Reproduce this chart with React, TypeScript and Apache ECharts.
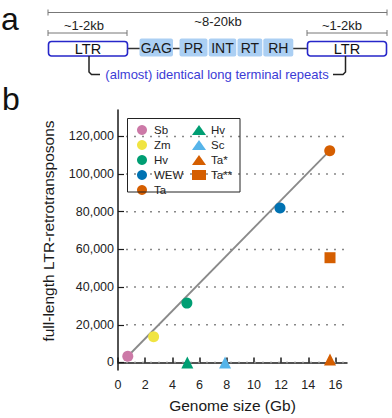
import React, { useEffect, useRef } from "react";
import * as echarts from "echarts";

// ---- data ----
const xTicks = [0, 2, 4, 6, 8, 10, 12, 14, 16];
const yTicks = [0, 20000, 40000, 60000, 80000, 100000, 120000];

const sbPoints = [[0.72, 3300]];
const zmPoints = [[2.62, 13700]];
const hvCirclePoints = [[5.07, 31500]];
const wewPoints = [[11.92, 82000]];
const taCirclePoints = [[15.58, 112400]];
const hvTrianglePoints = [[5.1, 0]];
const scPoints = [[7.88, 0]];
const taStarPoints = [[15.6, 1600]];
const taStar2Points = [[15.6, 55600]];
const fitLinePoints = [[0.72, 3300], [15.58, 112400]];

const legendLeft = ["Sb", "Zm", "Hv", "WEW", "Ta"];
const legendRight = ["Hv", "Sc", "Ta*", "Ta**"];

const X_MAX = 16.85;

const COLORS = {
  pink: "#CC79A7",
  yellow: "#F0E442",
  green: "#009E73",
  blue: "#0072B2",
  orange: "#D55E00",
  sky: "#56B4E9",
};

const FONT = "'Liberation Sans', Arial, Helvetica, sans-serif";

export default function App() {
  const ref = useRef<HTMLDivElement>(null);

  useEffect(() => {
    if (!ref.current) return;
    const chart = echarts.init(ref.current, undefined, { renderer: "svg" });

    const scatter = (name: string, data: number[][], color: string, symbol: string, size: number) => ({
      name,
      type: "scatter",
      data,
      symbol,
      symbolSize: size,
      itemStyle: { color, opacity: 1 },
      z: 5,
      clip: false,
      silent: true,
    });

    const lineColor = "#333";
    const diagram: any[] = [
      { type: "text", x: 1, y: 2.5, style: { text: "a", font: `32px ${FONT}`, fill: "#111", verticalAlign: "top" } },
      { type: "text", x: 2, y: 83, style: { text: "b", font: `32px ${FONT}`, fill: "#111", verticalAlign: "top" } },
      // top bracket
      { type: "line", shape: { x1: 48, y1: 12.5, x2: 387, y2: 12.5 }, style: { stroke: "#777", lineWidth: 1 } },
      { type: "line", shape: { x1: 48, y1: 9.5, x2: 48, y2: 15.5 }, style: { stroke: "#777", lineWidth: 1 } },
      { type: "line", shape: { x1: 387, y1: 9.5, x2: 387, y2: 15.5 }, style: { stroke: "#777", lineWidth: 1 } },
      { type: "text", x: 218, y: 21, style: { text: "~8-20kb", font: `13px ${FONT}`, fill: "#222", align: "center", verticalAlign: "middle" } },
      // left bracket
      { type: "line", shape: { x1: 48, y1: 33, x2: 127, y2: 33 }, style: { stroke: "#777", lineWidth: 1 } },
      { type: "line", shape: { x1: 48, y1: 30, x2: 48, y2: 36 }, style: { stroke: "#777", lineWidth: 1 } },
      { type: "line", shape: { x1: 127, y1: 30, x2: 127, y2: 36 }, style: { stroke: "#777", lineWidth: 1 } },
      { type: "text", x: 84, y: 25.5, style: { text: "~1-2kb", font: `13px ${FONT}`, fill: "#222", align: "center", verticalAlign: "middle" } },
      // right bracket
      { type: "line", shape: { x1: 307, y1: 33, x2: 387, y2: 33 }, style: { stroke: "#777", lineWidth: 1 } },
      { type: "line", shape: { x1: 307, y1: 30, x2: 307, y2: 36 }, style: { stroke: "#777", lineWidth: 1 } },
      { type: "line", shape: { x1: 387, y1: 30, x2: 387, y2: 36 }, style: { stroke: "#777", lineWidth: 1 } },
      { type: "text", x: 342, y: 25.5, style: { text: "~1-2kb", font: `13px ${FONT}`, fill: "#222", align: "center", verticalAlign: "middle" } },
      // connector lines
      { type: "line", shape: { x1: 127, y1: 48.5, x2: 140, y2: 48.5 }, style: { stroke: lineColor, lineWidth: 1.5 } },
      { type: "line", shape: { x1: 172, y1: 48.5, x2: 180, y2: 48.5 }, style: { stroke: lineColor, lineWidth: 1.5 } },
      { type: "line", shape: { x1: 293, y1: 48.5, x2: 308, y2: 48.5 }, style: { stroke: lineColor, lineWidth: 1.5 } },
      // LTR boxes
      { type: "rect", shape: { x: 48.5, y: 41.5, width: 79, height: 14.5, r: 3 }, style: { fill: "#fff", stroke: "#2626c9", lineWidth: 1.6 } },
      { type: "rect", shape: { x: 307.5, y: 41.5, width: 79, height: 14.5, r: 3 }, style: { fill: "#fff", stroke: "#2626c9", lineWidth: 1.6 } },
      { type: "text", x: 88, y: 49, style: { text: "LTR", font: `14.5px ${FONT}`, fill: "#111", align: "center", verticalAlign: "middle" } },
      { type: "text", x: 347, y: 49, style: { text: "LTR", font: `14.5px ${FONT}`, fill: "#111", align: "center", verticalAlign: "middle" } },
    ];
    const domains = [
      { t: "GAG", x: 139.5, w: 33.5 },
      { t: "PR", x: 179.5, w: 28 },
      { t: "INT", x: 208.7, w: 27.6 },
      { t: "RT", x: 237.5, w: 24.8 },
      { t: "RH", x: 263.3, w: 30 },
    ];
    domains.forEach((d) => {
      diagram.push({ type: "rect", shape: { x: d.x, y: 38.5, width: d.w, height: 18, r: 2 }, style: { fill: "#abcff3" } });
      diagram.push({ type: "text", x: d.x + d.w / 2, y: 48, style: { text: d.t, font: `14px ${FONT}`, fill: "#1a1a1a", align: "center", verticalAlign: "middle" } });
    });
    diagram.push(
      { type: "polyline", shape: { points: [[89, 56], [89, 72], [91.5, 74.5], [100, 74.5]] }, style: { stroke: "#222", lineWidth: 1.5, fill: null } },
      { type: "polyline", shape: { points: [[333, 74.5], [343, 74.5], [345.5, 72], [345.5, 56]] }, style: { stroke: "#222", lineWidth: 1.5, fill: null } },
      { type: "text", x: 217, y: 74, style: { text: "(almost) identical long terminal repeats", font: `13px ${FONT}`, fill: "#3b3bd6", align: "center", verticalAlign: "middle" } },
      // legend frame
      { type: "rect", shape: { x: 127.5, y: 118.5, width: 112.5, height: 73.5 }, style: { fill: null, stroke: "#222", lineWidth: 1 }, z: 10 }
    );

    const legendBase = {
      orient: "vertical",
      top: 124,
      itemWidth: 14,
      itemHeight: 10,
      itemGap: 3,
      selectedMode: false,
      padding: 0,
      textStyle: { fontSize: 11.5, color: "#222", fontFamily: FONT, padding: [0, 0, 0, 0] },
    };

    chart.setOption({
      animation: false,
      backgroundColor: "#fff",
      textStyle: { fontFamily: FONT },
      graphic: { elements: diagram },
      legend: [
        { ...legendBase, left: 137, data: legendLeft.map((n) => ({ name: n, icon: "circle" })) },
        {
          ...legendBase,
          left: 192,
          data: legendRight.map((n) => ({ name: n, icon: n === "Ta**" ? "rect" : "triangle" })),
        },
      ],
      grid: { left: 118, top: 110, width: 229, height: 261 },
      xAxis: {
        type: "value",
        min: 0,
        max: X_MAX,
        name: "Genome size (Gb)",
        nameLocation: "middle",
        nameGap: 27,
        nameTextStyle: { fontSize: 15.5, color: "#1a1a1a", fontFamily: FONT },
        axisLine: { show: true, lineStyle: { color: "#1a1a1a", width: 1.5 } },
        axisTick: { show: true, inside: true, length: 5, customValues: xTicks, lineStyle: { color: "#1a1a1a", width: 1.5 } },
        axisLabel: { customValues: xTicks, fontSize: 12.5, color: "#222", margin: 8, fontFamily: FONT },
        splitLine: { show: false },
      },
      yAxis: {
        type: "value",
        min: -4000,
        max: 134000,
        name: "full-length LTR-retrotransposons",
        nameLocation: "middle",
        nameRotate: 90,
        nameGap: 62,
        nameTextStyle: { fontSize: 15.5, color: "#1a1a1a", fontFamily: FONT, padding: [0, 0, 0, 18] },
        axisLine: { show: true, lineStyle: { color: "#1a1a1a", width: 1.5 } },
        axisTick: { show: true, inside: true, length: 6, customValues: yTicks, lineStyle: { color: "#1a1a1a", width: 1.2 } },
        axisLabel: {
          customValues: yTicks,
          fontSize: 12.5,
          color: "#222",
          margin: 4,
          fontFamily: FONT,
          formatter: (v: number) => Number(v).toLocaleString("en-US"),
        },
        splitLine: { show: false },
      },
      series: [
        {
          name: "gridlines",
          type: "custom",
          silent: true,
          z: 1,
          clip: false,
          encode: { x: 0, y: 1 },
          data: yTicks.map((v) => [0, v]),
          renderItem: (_params: any, api: any) => {
            const v = api.value(1);
            const p1 = api.coord([0, v]);
            const p2 = api.coord([X_MAX, v]);
            return {
              type: "line",
              shape: { x1: p1[0] + 8, y1: p1[1], x2: p2[0] - 3, y2: p2[1] },
              style: { stroke: "#888", lineWidth: 1.5, lineDash: [2, 6] },
            };
          },
        },
        {
          name: "fit",
          type: "line",
          data: fitLinePoints,
          symbol: "none",
          lineStyle: { color: "#8a8a8a", width: 1.8 },
          z: 2,
          silent: true,
        },
        scatter("Sb", sbPoints, COLORS.pink, "circle", 11),
        scatter("Zm", zmPoints, COLORS.yellow, "circle", 11),
        scatter("Hv", hvCirclePoints, COLORS.green, "circle", 11),
        scatter("WEW", wewPoints, COLORS.blue, "circle", 11),
        scatter("Ta", taCirclePoints, COLORS.orange, "circle", 11),
        scatter("Hv", hvTrianglePoints, COLORS.green, "triangle", 12),
        scatter("Sc", scPoints, COLORS.sky, "triangle", 12),
        scatter("Ta*", taStarPoints, COLORS.orange, "triangle", 12),
        scatter("Ta**", taStar2Points, COLORS.orange, "rect", 11),
      ],
    });

    return () => chart.dispose();
  }, []);

  return <div ref={ref} style={{ position: "fixed", left: 0, top: 0, width: 392, height: 418 }} />;
}
